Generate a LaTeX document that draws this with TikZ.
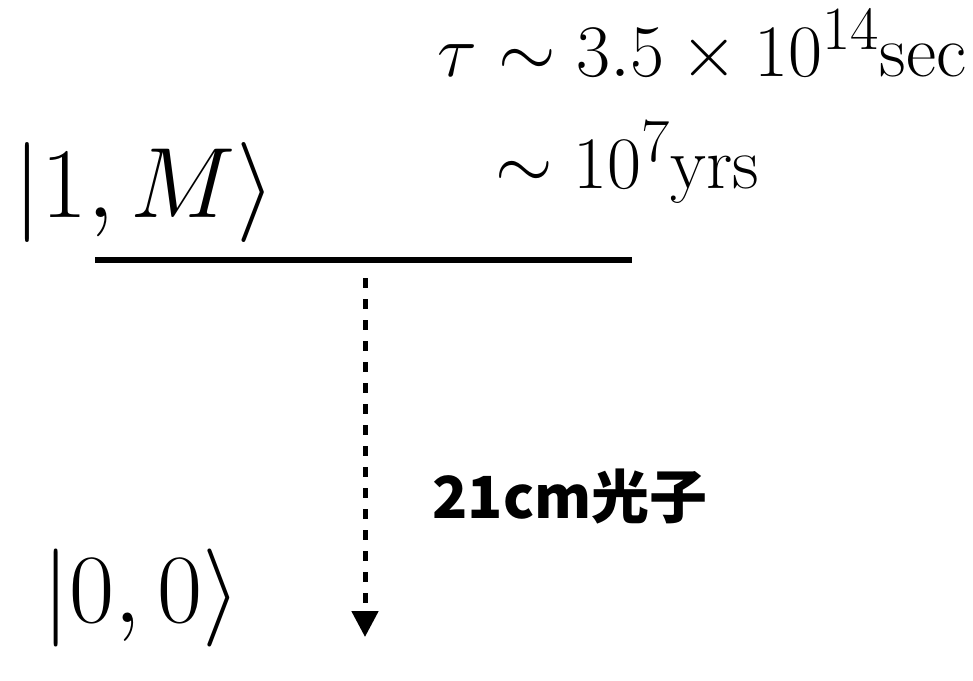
\RequirePackage{fix-cm}
\documentclass[tikz,border=0pt]{standalone}
\usepackage{amsmath}
\usepackage{fontspec}
\newfontfamily\cjk{Noto Sans CJK SC}
\usetikzlibrary{arrows.meta}
\DeclareMathSizes{37}{37}{30.7}{25.5}

\begin{document}
\begin{tikzpicture}[x=0.5pt,y=-0.5pt]
  \useasboundingbox (0,0) rectangle (973,680);
  % energy level and lifetime
  \draw[line width=3.3pt] (95,260) coordinate (upL) -- (632,260) coordinate (upR);
  \node[anchor=base west,inner sep=0] (upper) at (13,217)
    {\fontsize{50}{54}\selectfont $|1,M\rangle$};
  \node[anchor=base east,inner sep=0] (tau) at (967,76)
    {\fontsize{37}{42}\selectfont $\tau\sim3.5\times10^{14}\mathrm{sec}$};
  \node[anchor=base west,inner sep=0] (yrs) at (495,188)
    {\fontsize{37}{42}\selectfont $\sim10^{7}\mathrm{yrs}$};
  % transition
  \coordinate (emit) at (365,278);
  \coordinate (absorb) at (365,637);
  \draw[line width=2.5pt,dash pattern=on 5pt off 5.5pt,
    -{Triangle[length=13pt,width=13pt]}] (emit) -- (absorb);
  \node[anchor=base west,inner sep=0] (photon) at (432,518)
    {\fontsize{29}{32}\selectfont\cjk\bfseries 21cm光子};
  \node[anchor=base west,inner sep=0] (lower) at (42,622)
    {\fontsize{49}{53}\selectfont $|0,0\rangle$};
\end{tikzpicture}
\end{document}
